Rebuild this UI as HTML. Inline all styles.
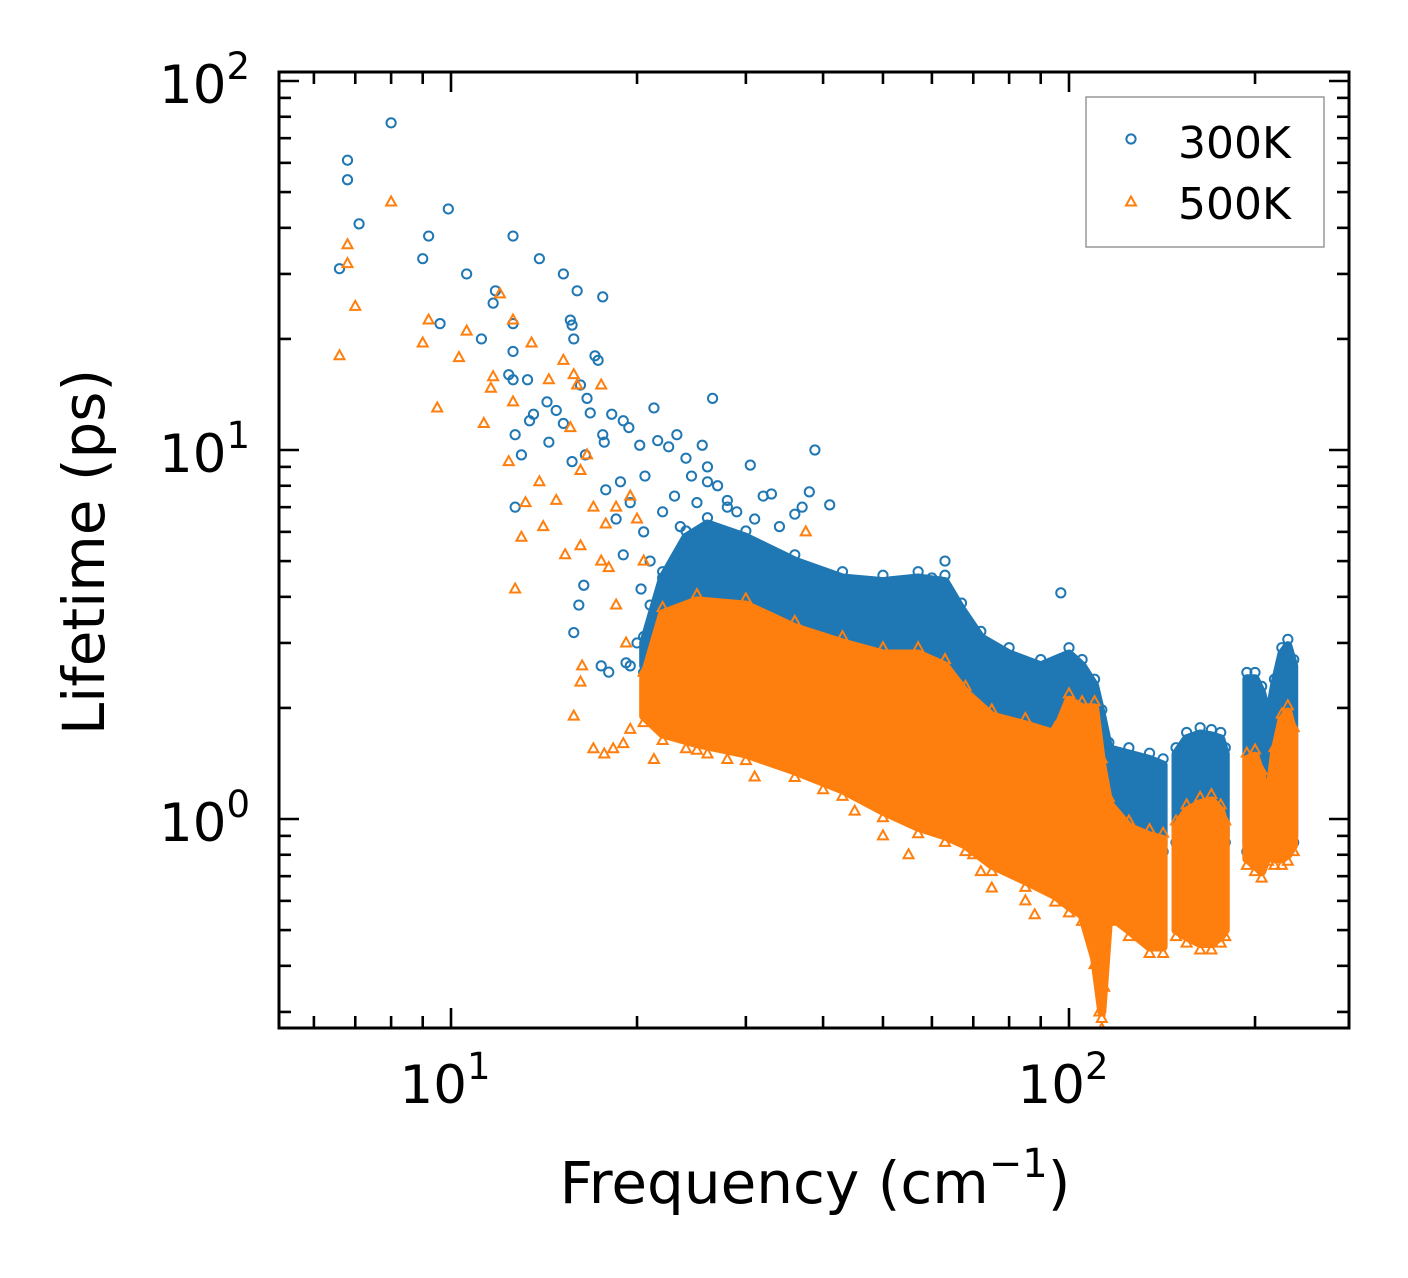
<!DOCTYPE html>
<html><head><meta charset="utf-8"><style>
html,body{margin:0;padding:0;background:#fff}
svg{display:block;font-family:"DejaVu Sans","Liberation Sans",sans-serif}
</style></head><body>
<svg id="chart" width="1408" height="1278" viewBox="0 0 1408 1278" xmlns="http://www.w3.org/2000/svg">
<rect width="1408" height="1278" fill="#fff"/>
<g id="plot"></g>
<g id="axes"></g>
</svg>
<script>
// ---- data ----
const blueSparseF=[6.6,6.8,6.8,7.1,8.0,9.0,9.2,9.6,9.9,10.6,11.2,11.7,11.8,12.6,12.6,12.6,12.4,12.6,12.7,12.7,13.0,13.3,13.4,13.6,13.9,14.3,14.4,14.8,15.2,15.2,15.6,15.7,15.8,16.0,15.7,16.2,16.5,16.6,16.8,17.1,17.3,17.6,17.6,17.7,18.2,16.1,15.8,16.4,17.5,18.0,19.2,19.5,19.0,19.4,20.2,20.6,21.3,21.6,22.5,23.2,24,25.5,26.5,26,27,30.5,28,32,33,36,37,38,38.8,41,97,63,60,18.5,19.5,20.5,21,22,20,21.5,23,19,18.8,17.8,22,23.5,24.5,25,21,20.3,23,24.5,26,28,29,31,34];
const blueSparseL=[31,54,61,41,77,33,38,22,45,30,20,25,27,38,22,18.5,16,15.5,11,7,9.7,15.5,12,12.5,33,13.5,10.5,12.8,30,11.8,22.5,21.8,20,27,9.3,15,9.7,13.8,12.6,18,17.5,26,11,10.5,12.5,3.8,3.2,4.3,2.6,2.5,2.65,2.6,12,11.5,10.3,8.5,13,10.6,10.2,11,9.5,10.3,13.8,9,8,9.1,7,7.5,7.6,6.7,7,7.7,10,7.1,4.1,5,4.5,6.5,7.2,6,5,4.5,3,2.8,3.5,5.2,8.2,7.8,6.8,6.2,5.8,7.2,3.8,4.2,7.5,8.5,8.2,7.3,6.8,6.5,6.2];
const orangeSparseF=[6.6,6.8,6.8,7.0,8.0,9.0,9.2,9.5,10.3,10.6,11.3,11.6,11.7,12.0,12.4,12.6,12.6,12.7,13.0,13.2,13.5,13.9,14.1,14.4,14.8,15.2,15.3,15.6,15.8,16.0,16.2,16.2,16.3,16.2,15.8,16.6,17.0,17.5,17.0,17.7,18.3,19,19.5,21.3,17.5,18,18.5,19.2,17.8,18.5,19.5,20,20.5,31,37.5,22.5,24,26,28,40,45,50,55,60,70,72,75,85,88,92,113,112,114,110,20.8,21.5];
const orangeSparseL=[18,32,36,24.5,47,19.5,22.5,13,17.8,21,11.8,14.7,15.8,26.5,9.3,13.5,22.5,4.2,5.8,7.2,19.5,8.2,6.2,15.5,7.3,17.5,5.2,11.5,16,15,8.8,5.5,2.6,2.35,1.9,9.7,7.0,15,1.55,1.5,1.55,1.6,1.75,1.45,5,4.8,3.8,3.0,6.3,7,7.5,6.5,5,1.3,6,1.7,1.55,1.5,1.45,1.2,1.05,0.9,0.8,0.95,0.8,0.72,0.65,0.6,0.55,0.65,0.27,0.3,0.35,0.45,2.2,2.6];

// dense clouds: envelope of the solid point regions
const blueBandF=[20.5,22,24,26,30,36,43,50,57,63,67,72,80,90,100,105,110,113,116,125,135,142];
const blueBandHi=[3.0,4.5,5.8,6.3,5.8,5.0,4.5,4.4,4.5,4.4,3.7,3.1,2.8,2.6,2.8,2.6,2.3,1.9,1.55,1.5,1.45,1.4];
const blueBandLo=[2.6,2.6,2.5,2.4,2.3,2.1,2.0,1.9,1.8,1.7,1.6,1.5,1.4,1.3,1.2,1.1,1.0,0.95,0.85,0.85,0.85,0.85];
const blueC2F=[149,155,163,170,176,179];
const blueC2Hi=[1.5,1.65,1.7,1.68,1.65,1.5];
const blueC2Lo=[0.9,0.88,0.88,0.88,0.88,0.9];
const blueC3F=[194,200,205,210,215,221,226,231];
const blueC3Hi=[2.4,2.4,2.2,1.85,2.3,2.8,2.95,2.6];
const blueC3Lo=[0.85,0.85,0.9,1.1,1.0,0.9,0.85,0.9];

const orangeBandF=[20.5,22,25,30,36,43,50,57,63,68,75,85,95,100,105,110,113,116,125,135,142];
const orangeBandHi=[2.4,3.6,3.9,3.8,3.3,3.0,2.8,2.8,2.6,2.2,1.9,1.8,1.7,2.1,2.0,2.0,1.4,1.1,0.95,0.9,0.88];
const orangeBandLo=[1.9,1.7,1.6,1.5,1.35,1.2,1.05,0.95,0.9,0.85,0.75,0.68,0.62,0.58,0.55,0.42,0.3,0.55,0.5,0.45,0.45];
const orangeC2F=[149,155,163,170,176,179];
const orangeC2Hi=[0.95,1.05,1.1,1.12,1.05,0.95];
const orangeC2Lo=[0.5,0.48,0.46,0.46,0.48,0.5];
const orangeC3F=[194,200,205,210,215,221,226,231];
const orangeC3Hi=[1.45,1.48,1.3,1.1,1.5,1.85,1.95,1.7];
const orangeC3Lo=[0.78,0.75,0.72,0.8,0.78,0.78,0.8,0.85];

const xTickVals=[10,100];
const xTickExp=["1","2"];
const yTickVals=[1,10,100];
const yTickExp=["0","1","2"];

// ---- axes ----
const X0=279,X1=1349,Y0=72,Y1=1028;
const xs=f=>451+(Math.log10(f)-1)*618;
const ys=v=>819-Math.log10(v)*369;
const NS="http://www.w3.org/2000/svg";
const plot=document.getElementById('plot'), axes=document.getElementById('axes');
const BLUE="#1f77b4", ORANGE="#ff7f0e";
function mk(tag,attrs,parent){const e=document.createElementNS(NS,tag);for(const k in attrs)e.setAttribute(k,attrs[k]);parent.appendChild(e);return e;}

const clip=mk('clipPath',{id:'cp'},plot);
mk('rect',{x:X0,y:Y0,width:X1-X0,height:Y1-Y0},clip);
const g=mk('g',{'clip-path':'url(#cp)'},plot);

function circle(f,v){const c=mk('circle',{cx:xs(f),cy:ys(v),r:4.6,fill:'none',stroke:BLUE,'stroke-width':2},g);

}
function tri(f,v){const x=xs(f),y=ys(v);const t=mk('polygon',{points:`${x},${y-5.5} ${x-5},${y+3.5} ${x+5},${y+3.5}`,fill:'none',stroke:ORANGE,'stroke-width':2},g);

}
function band(F,H,L,color,name,marker){
  let pts=F.map((f,i)=>xs(f)+','+ys(H[i]));
  for(let i=F.length-1;i>=0;i--)pts.push(xs(F[i])+','+ys(L[i]));
  const p=mk('polygon',{points:pts.join(' '),fill:color,stroke:color,'stroke-width':9,'stroke-linejoin':'round'},g);
  
  
  F.forEach((f,i)=>{marker(f,H[i]*1.04);marker(f,L[i]*0.96);});
}
// 300K
band(blueBandF,blueBandHi,blueBandLo,BLUE,'cloud-300k-main',circle);
band(blueC2F,blueC2Hi,blueC2Lo,BLUE,'cloud-300k-170',circle);
band(blueC3F,blueC3Hi,blueC3Lo,BLUE,'cloud-300k-215',circle);
blueSparseF.forEach((f,i)=>circle(f,blueSparseL[i]));
// 500K
band(orangeBandF,orangeBandHi,orangeBandLo,ORANGE,'cloud-500k-main',tri);
band(orangeC2F,orangeC2Hi,orangeC2Lo,ORANGE,'cloud-500k-170',tri);
band(orangeC3F,orangeC3Hi,orangeC3Lo,ORANGE,'cloud-500k-215',tri);
orangeSparseF.forEach((f,i)=>tri(f,orangeSparseL[i]));

// frame
const fr=mk('rect',{x:X0,y:Y0,width:X1-X0,height:Y1-Y0,fill:'none',stroke:'#000','stroke-width':3},axes);



function tickLine(x1,y1,x2,y2,name){const l=mk('line',{x1,y1,x2,y2,stroke:'#000','stroke-width':2.6},axes);

}
// x ticks
for(let d=1;d<=100;d*=10){for(let m=1;m<=9;m++){const f=m*d;const x=xs(f);if(x<X0-0.5||x>X1+0.5)continue;
  const L=(m===1)?20:12;tickLine(x,Y1,x,Y1-L,'x-tick');tickLine(x,Y0,x,Y0+L,'x-tick-top');}}
// y ticks
for(let d=0.1;d<=100;d*=10){for(let m=1;m<=9;m++){const v=m*d;const y=ys(v);if(y<Y0-0.5||y>Y1+0.5)continue;
  const L=(m===1)?20:12;tickLine(X0,y,X0+L,y,'y-tick');tickLine(X1,y,X1-L,y,'y-tick-right');}}

function powLabel(x,y,exp,anchor,name){
  const t=mk('text',{x,y,'font-size':53,fill:'#000','text-anchor':anchor},axes);
  
  
  t.appendChild(document.createTextNode('10'));
  const s=mk('tspan',{dy:-24,'font-size':37},t);s.textContent=exp;
}
xTickVals.forEach((v,i)=>powLabel(xs(v)-6,1103,xTickExp[i],'middle','x-tick-label'));
yTickVals.forEach((v,i)=>powLabel(250,ys(v)+22,yTickExp[i],'end','y-tick-label'));

// axis titles
const xt=mk('text',{x:815,y:1203,'font-size':58,'text-anchor':'middle',fill:'#000'},axes);


xt.appendChild(document.createTextNode('Frequency (cm'));
const sup=mk('tspan',{dy:-26,'font-size':40},xt);sup.textContent='\u22121';
const cl=mk('tspan',{dy:26},xt);cl.textContent=')';
const yt=mk('text',{x:0,y:0,'font-size':58,'text-anchor':'middle',fill:'#000',transform:'translate(104,552) rotate(-90)'},axes);


yt.textContent='Lifetime (ps)';

// legend
const lg=mk('g',{},axes);


mk('rect',{x:1086,y:97,width:238,height:150,fill:'#fff',stroke:'#999','stroke-width':1.5},lg);
const lc=mk('circle',{cx:1131,cy:139,r:4.6,fill:'none',stroke:BLUE,'stroke-width':2},lg);


const lt=mk('polygon',{points:'1131,196.5 1126,205.5 1136,205.5',fill:'none',stroke:ORANGE,'stroke-width':2},lg);


const t1=mk('text',{x:1178,y:158,'font-size':44,fill:'#000'},lg);t1.textContent='300K';


const t2=mk('text',{x:1178,y:219,'font-size':44,fill:'#000'},lg);t2.textContent='500K';


</script>
</body></html>
